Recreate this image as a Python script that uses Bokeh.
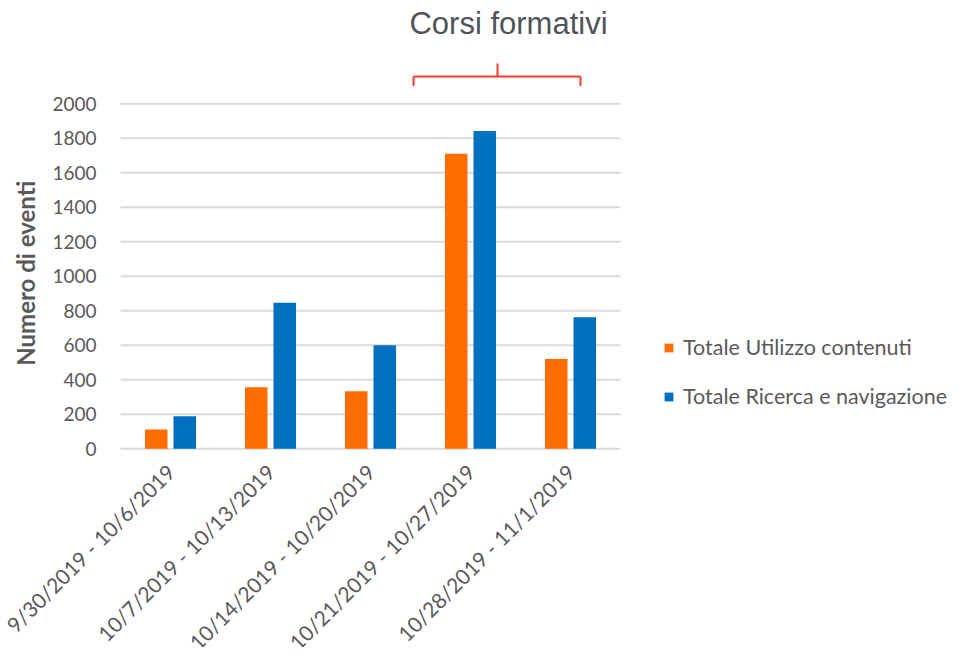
import math
from bokeh.plotting import figure
from bokeh.models import Range1d, Legend, LegendItem, Label, ColumnDataSource
from bokeh.core.properties import value
from bokeh.transform import dodge
from bokeh.embed import file_html
from bokeh.resources import INLINE

# ---- data ----
weeks = ["9/30/2019 - 10/6/2019", "10/7/2019 - 10/13/2019", "10/14/2019 - 10/20/2019",
         "10/21/2019 - 10/27/2019", "10/28/2019 - 11/1/2019"]
utilizzo = [112, 357, 334, 1710, 520]
ricerca = [188, 846, 601, 1842, 763]
y_ticks = [0, 200, 400, 600, 800, 1000, 1200, 1400, 1600, 1800, 2000]
y_tick_labels = [str(t) for t in y_ticks]
series_names = ["Totale Utilizzo contenuti", "Totale Ricerca e navigazione"]
y_title = "Numero di eventi"
annotation_title = "Corsi formativi"

ORANGE = "#FF6D01"
BLUE = "#0070C0"
GRID = "#D9D9D9"
TXT = "#595959"
FONT = "Lato"

n = len(weeks)
pos = [i + 0.5 for i in range(n)]
src = ColumnDataSource(dict(pos=pos, week=weeks, utilizzo=utilizzo, ricerca=ricerca))

# the frame covers the whole canvas; axes are drawn as text marks in data space
p = figure(x_range=Range1d(-1.2, 8.31), y_range=Range1d(-1152, 2599),
           width=951, height=647, output_backend="svg", toolbar_location=None,
           x_axis_location=None, y_axis_location=None,
           min_border_left=0, min_border_right=0, min_border_top=0, min_border_bottom=0)
p.title.visible = False
p.outline_line_color = None
p.xgrid.grid_line_color = None
p.ygrid.grid_line_color = None

# horizontal gridlines spanning the category area
p.segment(x0=[0] * len(y_ticks), x1=[n] * len(y_ticks), y0=y_ticks, y1=y_ticks,
          line_color=GRID, line_width=2)

r1 = p.vbar(x=dodge("pos", -0.1425), top="utilizzo", width=0.225,
            source=src, fill_color=ORANGE, line_color=None)
r2 = p.vbar(x=dodge("pos", 0.1425), top="ricerca", width=0.225,
            source=src, fill_color=BLUE, line_color=None)

# y tick labels
p.text(x=[0] * len(y_ticks), y=y_ticks, text=y_tick_labels, x_offset=-24,
       text_align="right", text_baseline="middle", text_font=value(FONT),
       text_font_size="19px", text_color=TXT)

# y axis title
p.text(x=[0], y=[y_ticks[-1] / 2], text=[y_title], x_offset=-95, y_offset=-3,
       angle=math.pi / 2, text_align="center", text_baseline="middle",
       text_font=value(FONT), text_font_size="24px", text_font_style="bold",
       text_color=TXT)

# x category labels (rotated 45 degrees)
p.text(x=pos, y=[0] * n, text=weeks,
       y_offset=19, angle=math.pi / 4, text_align="right", text_baseline="middle",
       text_font=value(FONT), text_font_size="21px", text_color=TXT)

# legend
legend = Legend(items=[LegendItem(label=series_names[0], renderers=[r1]),
                       LegendItem(label=series_names[1], renderers=[r2])],
                location=(663, 238), orientation="vertical",
                label_text_font=FONT, label_text_font_size="21.5px", label_text_color=TXT,
                glyph_width=11, glyph_height=11, label_standoff=9, label_height=22,
                spacing=23, padding=0, margin=0, border_line_color=None,
                background_fill_alpha=0)
p.add_layout(legend)

# annotation: title + bracket over the last two weeks
p.add_layout(Label(x=3.88, y=2466, text=annotation_title, text_align="center",
                   text_baseline="alphabetic", text_font="Liberation Sans",
                   text_font_size="31px", text_color="#505459"))
RED = "#FF3B2F"
p.segment(x0=[2.93, 2.93, 4.60, 3.77], y0=[2159, 2159, 2159, 2159],
          x1=[4.60, 2.93, 4.60, 3.77], y1=[2159, 2104, 2104, 2234],
          line_color=RED, line_width=2)

open("out.html", "w").write(file_html(p, INLINE))
